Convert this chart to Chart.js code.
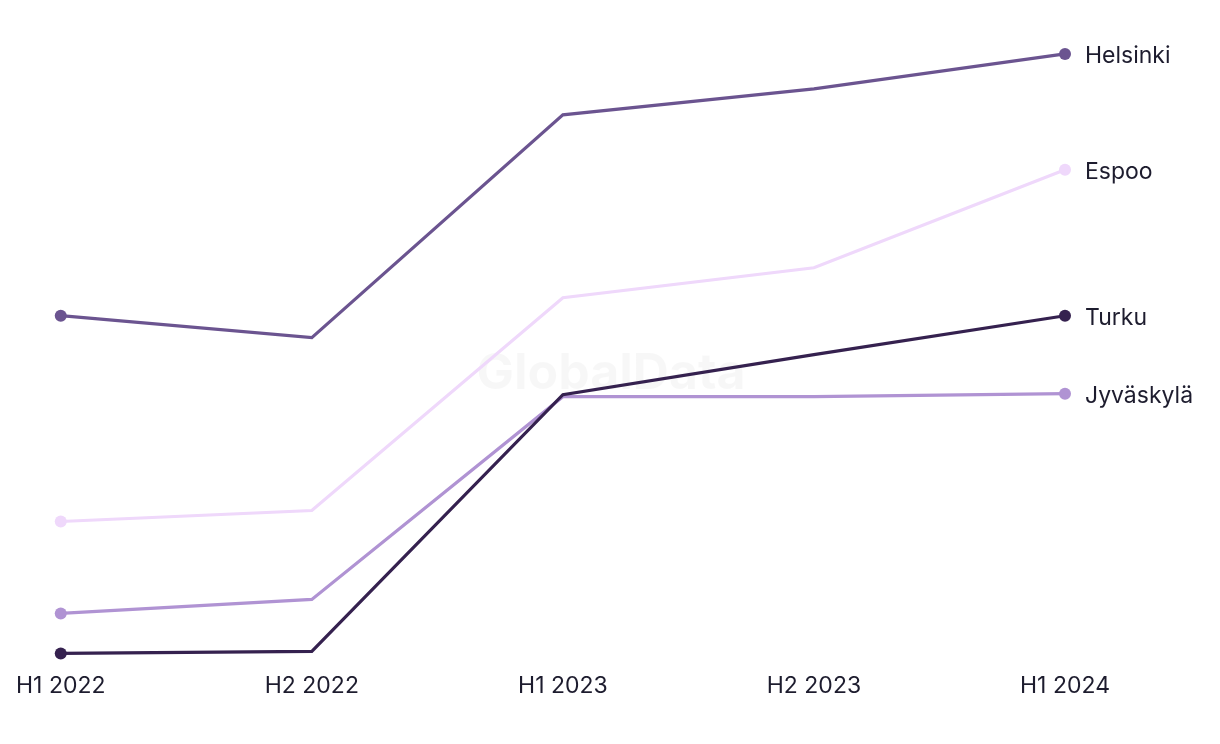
<!DOCTYPE html>
<html>
<head>
<meta charset="utf-8">
<script src="https://cdn.jsdelivr.net/npm/chart.js@4/dist/chart.umd.min.js"></script>
<style>
  html, body { margin: 0; padding: 0; background: #ffffff; }
  #wrap { width: 1220px; height: 744px; position: relative; }
</style>
</head>
<body>
<div id="wrap"><canvas id="cityChart"></canvas></div>
<script>
const periods = ["H1 2022", "H2 2022", "H1 2023", "H2 2023", "H1 2024"];
const cities = ["Helsinki", "Espoo", "Turku", "Jyväskylä"];
const helsinki = [384, 362, 585, 611, 646];
const espoo = [178, 189, 402, 432, 530];
const turku = [46, 48, 305, 345, 384];
const jyvaskyla = [86, 100, 303, 303, 306];
const colors = ["#6b5490", "#efd8fb", "#35214f", "#b093d3"];

const textColor = "#1d1c2e";
const fontFamily = "Inter, 'Liberation Sans', sans-serif";

const endLabels = {
    id: "endLabels",
    afterDatasetsDraw(chart) {
        const ctx = chart.ctx;
        ctx.save();
        ctx.font = "23px " + fontFamily;
        ctx.fillStyle = textColor;
        ctx.textAlign = "left";
        ctx.textBaseline = "middle";
        chart.data.datasets.forEach(function (ds, i) {
            const meta = chart.getDatasetMeta(i);
            const last = meta.data[meta.data.length - 1];
            ctx.fillText(ds.label, last.x + 20, last.y + 2);
        });
        ctx.restore();
    }
};

const watermark = {
    id: "watermark",
    beforeDatasetsDraw(chart) {
        const ctx = chart.ctx;
        ctx.save();
        ctx.font = "bold 50px " + fontFamily;
        ctx.fillStyle = "rgba(0, 0, 0, 0.03)";
        ctx.textAlign = "center";
        ctx.textBaseline = "middle";
        ctx.fillText("GlobalData", 611, 374);
        ctx.restore();
    }
};

const seriesValues = [helsinki, espoo, turku, jyvaskyla];

const data = {
    labels: periods,
    datasets: cities.map(function (name, i) {
        return {
            label: name,
            data: seriesValues[i],
            borderColor: colors[i],
            backgroundColor: colors[i],
            borderWidth: 3.2,
            tension: 0,
            pointRadius: [6, 0, 0, 0, 6],
            pointHoverRadius: [6, 0, 0, 0, 6],
            pointBorderWidth: 0,
            clip: false
        };
    })
};

new Chart(document.getElementById("cityChart"), {
    type: "line",
    data: data,
    options: {
        responsive: true,
        maintainAspectRatio: false,
        animation: false,
        events: [],
        layout: {
            padding: { left: 56, right: 155, top: 0, bottom: 28 }
        },
        plugins: {
            legend: { display: false },
            tooltip: { enabled: false }
        },
        scales: {
            x: {
                offset: false,
                grid: { display: false, drawTicks: false },
                border: { display: false },
                ticks: {
                    color: textColor,
                    padding: 16,
                    maxRotation: 0,
                    font: { family: fontFamily, size: 23 }
                }
            },
            y: {
                display: false,
                min: 43,
                max: 694
            }
        }
    },
    plugins: [watermark, endLabels]
});
</script>
</body>
</html>
